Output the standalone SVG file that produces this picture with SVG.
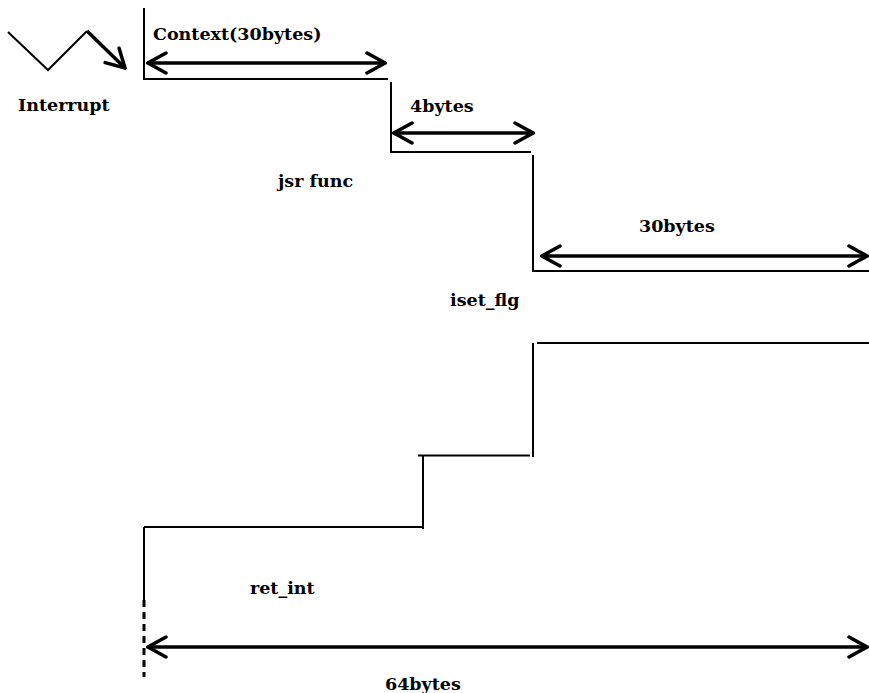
<svg xmlns="http://www.w3.org/2000/svg" width="869" height="693" viewBox="0 0 869 693">
<style>
.t{font-family:"DejaVu Serif","Liberation Serif",serif;font-weight:bold;font-size:17.5px;fill:#000}
.thin{stroke:#000;stroke-width:2;fill:none}
.dim{stroke:#000;stroke-width:3.5;fill:none;marker-start:url(#ah);marker-end:url(#ah)}
</style>
<defs>
<marker id="ah" markerUnits="userSpaceOnUse" viewBox="-22 -13 24 26" markerWidth="24" markerHeight="26" refX="0" refY="0" orient="auto-start-reverse">
<path d="M-18,-10 L0,0 L-18,10" fill="none" stroke="#000" stroke-width="3.5" stroke-linecap="round" stroke-linejoin="miter"/>
</marker>
</defs>
<g id="connectors">
<path class="thin" d="M8,32 L48,70 L87,31"/>
<path d="M87,31 L125,68" stroke="#000" stroke-width="3.5" fill="none" marker-end="url(#ah)"/>
<path class="thin" d="M144,8 V79 H388"/>
<path class="thin" d="M391,82 V152 H531"/>
<path class="thin" d="M533,155 V271 H869"/>
<path class="thin" d="M533,343 V457"/>
<path class="thin" d="M537,343 H869"/>
<path class="thin" d="M418,455.5 H530"/>
<path class="thin" d="M423,455.5 V529"/>
<path class="thin" d="M144,527 H422"/>
<path class="thin" d="M144,527 V600"/>
<path d="M144,600 V677" stroke="#000" stroke-width="3" stroke-dasharray="7,5" fill="none"/>
<line class="dim" x1="148" y1="63" x2="385" y2="63"/>
<line class="dim" x1="394" y1="133" x2="533" y2="133"/>
<line class="dim" x1="542" y1="256" x2="867" y2="256"/>
<line class="dim" x1="148" y1="647" x2="867" y2="647"/>
</g>
<g id="label-interrupt"><text class="t" x="18" y="111">Interrupt</text></g>
<g id="label-context"><text class="t" x="153" y="40">Context(30bytes)</text></g>
<g id="label-4bytes"><text class="t" x="410" y="112">4bytes</text></g>
<g id="label-jsr"><text class="t" x="278" y="187">jsr func</text></g>
<g id="label-30bytes"><text class="t" x="639" y="232">30bytes</text></g>
<g id="label-iset"><text class="t" x="450" y="306">iset_flg</text></g>
<g id="label-ret"><text class="t" x="250" y="594">ret_int</text></g>
<g id="label-64bytes"><text class="t" x="385" y="690">64bytes</text></g>
</svg>
